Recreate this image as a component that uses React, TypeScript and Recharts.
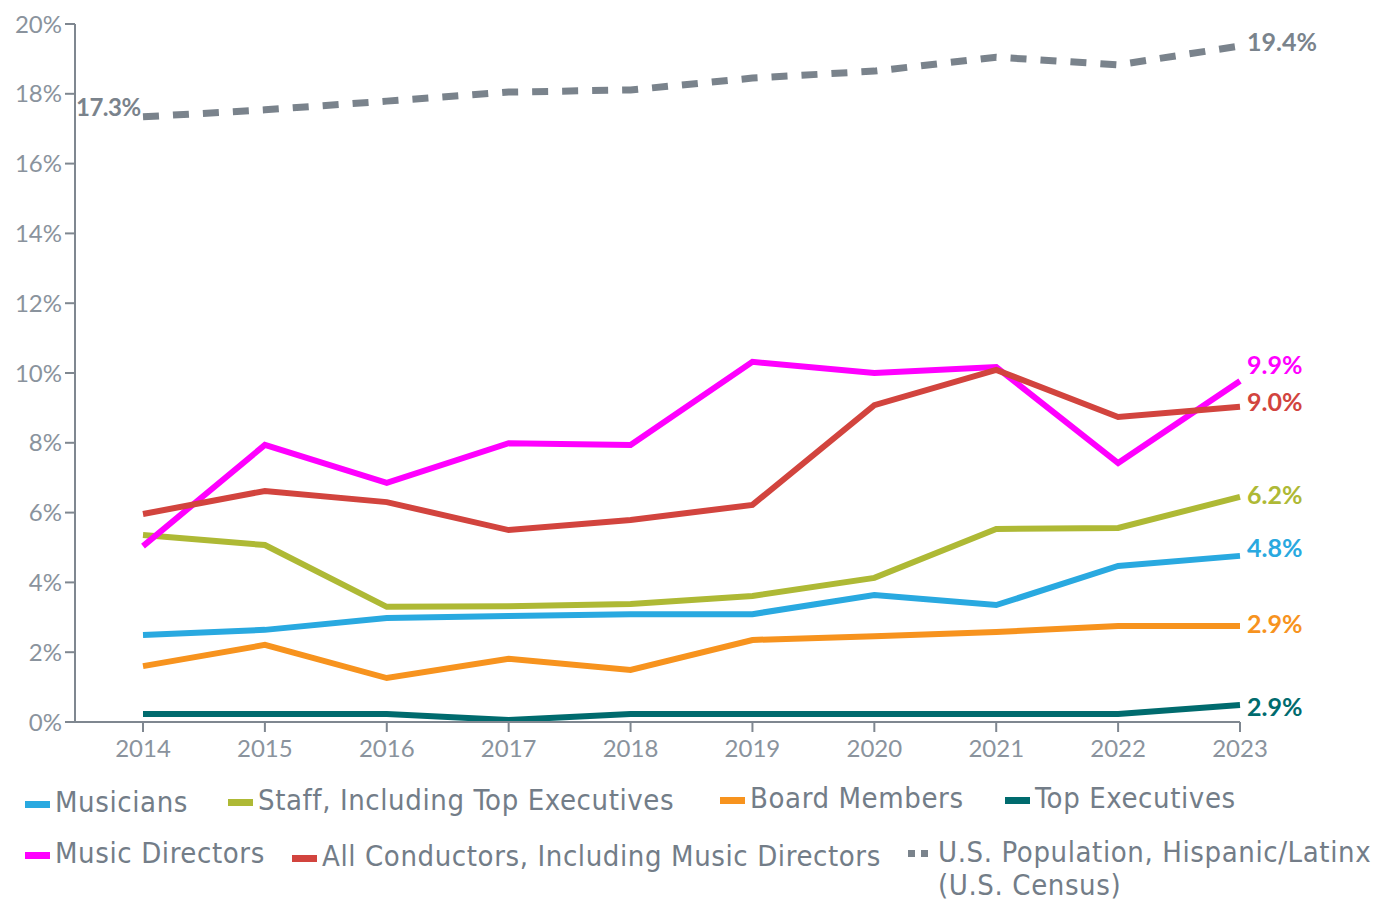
import React from 'react';
import { LineChart, Line, XAxis, YAxis } from 'recharts';

const YEARS = ['2014', '2015', '2016', '2017', '2018', '2019', '2020', '2021', '2022', '2023'];
const Y_TICKS = [0, 2, 4, 6, 8, 10, 12, 14, 16, 18, 20];

const MUSICIANS = [2.49, 2.64, 2.98, 3.04, 3.09, 3.09, 3.64, 3.35, 4.47, 4.76];
const STAFF = [5.36, 5.07, 3.3, 3.32, 3.38, 3.61, 4.13, 5.53, 5.56, 6.45];
const BOARD = [1.6, 2.21, 1.26, 1.81, 1.49, 2.35, 2.46, 2.58, 2.75, 2.75];
const TOP_EXEC = [0.23, 0.23, 0.23, 0.06, 0.23, 0.23, 0.23, 0.23, 0.23, 0.49];
const MUSIC_DIRECTORS = [5.04, 7.94, 6.85, 7.99, 7.94, 10.32, 10.0, 10.17, 7.42, 9.77];
const CONDUCTORS = [5.96, 6.62, 6.3, 5.5, 5.79, 6.22, 9.08, 10.09, 8.74, 9.03];
const US_POP = [17.34, 17.54, 17.79, 18.05, 18.11, 18.45, 18.65, 19.05, 18.83, 19.37];

const SERIES_NAMES = [
  'Musicians',
  'Staff, Including Top Executives',
  'Board Members',
  'Top Executives',
  'Music Directors',
  'All Conductors, Including Music Directors',
  'U.S. Population, Hispanic/Latinx\n(U.S. Census)',
];
const END_LABELS = ['4.8%', '6.2%', '2.9%', '2.9%', '9.9%', '9.0%', '19.4%'];
const START_LABEL_US = '17.3%';

const data = YEARS.map((year, i) => ({
  year,
  musicians: MUSICIANS[i],
  staff: STAFF[i],
  board: BOARD[i],
  topExec: TOP_EXEC[i],
  musicDirectors: MUSIC_DIRECTORS[i],
  conductors: CONDUCTORS[i],
  usPop: US_POP[i],
}));

const AXIS = '#7f8790';
const TICK = '#8a939d';
const LABEL_FONT = 'Lato, "Open Sans", sans-serif';
const LEGEND_FONT = '"DejaVu Sans Condensed", "Liberation Sans Narrow", sans-serif';

type SeriesDef = { key: string; color: string; dash?: string; dy: number };
const SERIES: SeriesDef[] = [
  { key: 'musicians', color: '#29a9e0', dy: -9 },
  { key: 'staff', color: '#aeb935', dy: -3 },
  { key: 'board', color: '#f7931e', dy: -3 },
  { key: 'topExec', color: '#006b6e', dy: 1 },
  { key: 'musicDirectors', color: '#ff00ff', dy: -17 },
  { key: 'conductors', color: '#d2443e', dy: -6 },
  { key: 'usPop', color: '#7a838c', dash: '16 14', dy: -5 },
];

const makeLabel = (s: SeriesDef, idx: number) => (props: any) => {
  const { x, y, index } = props;
  const last = YEARS.length - 1;
  if (index === last) {
    return (
      <text x={x + 7} y={y + s.dy} dominantBaseline="central" fill={s.color}
        fontFamily={LABEL_FONT} fontWeight={700} fontSize={25}>
        {END_LABELS[idx]}
      </text>
    );
  }
  if (s.key === 'usPop' && index === 0) {
    return (
      <text x={x - 67} y={y - 10} dominantBaseline="central" fill={s.color}
        fontFamily={LABEL_FONT} fontWeight={700} fontSize={24} letterSpacing={-0.5}>
        {START_LABEL_US}
      </text>
    );
  }
  return null;
};

// legend placement (pixels)
const LEGEND_POS = [
  { left: 25, top: 786 },
  { left: 228, top: 784 },
  { left: 720, top: 782 },
  { left: 1005, top: 782 },
  { left: 25, top: 837 },
  { left: 292, top: 840 },
  { left: 908, top: 836 },
];

const Legend2: React.FC = () => (
  <>
    {SERIES.map((s, i) => (
      <div key={s.key} style={{ position: 'absolute', left: LEGEND_POS[i].left, top: LEGEND_POS[i].top,
        display: 'flex', alignItems: 'flex-start', fontFamily: LEGEND_FONT, fontSize: 29, letterSpacing: 0.6,
        color: '#737d88', lineHeight: '33px' }}>
        {s.dash ? (
          <div style={{ display: 'flex', gap: 6, width: 25, marginTop: 14, marginRight: 5 }}>
            <div style={{ width: 7, height: 7, background: s.color }} />
            <div style={{ width: 7, height: 7, background: s.color }} />
          </div>
        ) : (
          <div style={{ width: 25, height: 7, background: s.color, marginTop: 15, marginRight: 5 }} />
        )}
        <div style={{ whiteSpace: 'pre' }}>{SERIES_NAMES[i]}</div>
      </div>
    ))}
  </>
);

export default function App() {
  return (
    <div style={{ position: 'absolute', left: 0, top: 0, width: 1375, height: 901, background: '#fff', overflow: 'hidden' }}>
      <LineChart width={1375} height={770} data={data} margin={{ top: 24, right: 135, bottom: 8, left: 0 }}>
        <XAxis dataKey="year" padding={{ left: 68, right: 0 }} stroke={AXIS} strokeWidth={2}
          tickSize={10} tickMargin={8} height={40} interval={0}
          tick={{ fill: TICK, fontSize: 24, fontFamily: LABEL_FONT }} />
        <YAxis domain={[0, 20]} ticks={Y_TICKS} stroke={AXIS} strokeWidth={2} width={75}
          tickSize={10} tickMargin={3} tickFormatter={(v) => `${v}%`} interval={0}
          tick={{ fill: TICK, fontSize: 24, fontFamily: LABEL_FONT }} />
        {SERIES.map((s, i) => (
          <Line key={s.key} type="linear" dataKey={s.key} stroke={s.color} strokeWidth={s.dash ? 7 : 6}
            strokeDasharray={s.dash} dot={false} activeDot={false} isAnimationActive={false}
            strokeLinejoin="miter" label={makeLabel(s, i)} />
        ))}
      </LineChart>
      <Legend2 />
    </div>
  );
}
